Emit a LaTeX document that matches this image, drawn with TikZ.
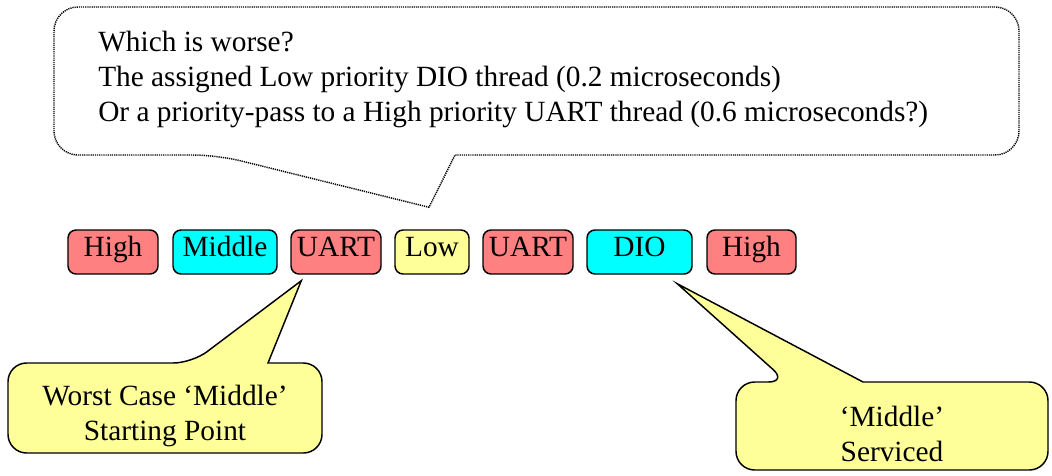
\documentclass[tikz,border=0pt]{standalone}
\usepackage{fontspec}
\setmainfont{Liberation Serif}
\usetikzlibrary{calc}
\definecolor{thrRed}{HTML}{FF8080}
\definecolor{thrCyan}{HTML}{00FFFF}
\definecolor{noteYellow}{HTML}{FFFF99}
\begin{document}
\begin{tikzpicture}[x=0.75pt,y=-0.75pt,
  thread/.style={draw=black, line width=1.1pt, rounded corners=6pt,
    minimum height=33pt, inner sep=0pt, text height=12pt, text depth=6pt,
    font=\fontsize{22}{26}\selectfont},
  hi/.style={thread, fill=thrRed},
  mid/.style={thread, fill=thrCyan},
  lo/.style={thread, fill=noteYellow},
  note/.style={draw=black, line width=1.1pt, fill=noteYellow},
  notetext/.style={align=center, inner sep=0pt, font=\fontsize{22}{26.25}\selectfont},
  question/.style={draw=black, line width=1.1pt, dash pattern=on 0.9pt off 0.7pt, fill=white},
]
\useasboundingbox (0,0) rectangle (1052,475);

% thread queue
\node[hi,  minimum width=67.5pt]  (b1) at (113,252)   {High};
\node[mid, minimum width=78pt]    (b2) at (225,252)   {Middle};
\node[hi,  minimum width=67.5pt]  (b3) at (336,252)   {UART};
\node[lo,  minimum width=55.5pt]  (b4) at (432,252)   {Low};
\node[hi,  minimum width=67.5pt]  (b5) at (528,252)   {UART};
\node[mid, minimum width=78.75pt] (b6) at (639.5,252) {DIO};
\node[hi,  minimum width=66.75pt] (b7) at (751.5,252) {High};

% callout tips
\coordinate (tipQ) at ($(b4.north)+(-3,-22)$);
\coordinate (tipS) at ($(b3.south west)+(11,6)$);
\coordinate (tipE) at ($(b6.south west)+(91,9)$);

% question callout (dotted)
\draw[question] (600,155) [rounded corners=18pt] -- (1019,155) -- (1019,7) -- (54,7) -- (54,155)
  -- (217,155) [sharp corners] -- (tipQ) -- (455,155) [rounded corners=18pt] -- cycle;
\node[anchor=north west, align=left, inner sep=0pt, font=\fontsize{22}{26.25}\selectfont] (q) at (98,31)
  {Which is worse?\\The assigned Low priority DIO thread (0.2 microseconds)\\Or a priority-pass to a High priority UART thread (0.6 microseconds?)};

% starting point callout
\draw[note] (165,453) [rounded corners=14pt] -- (8,453) -- (8,363) -- (192,363) [sharp corners]
  -- (tipS) -- (268,363) [rounded corners=14pt] -- (322,363) -- (322,453) -- cycle;
\node[notetext] (sp) at (165,416) {Worst Case ‘Middle’\\Starting Point};

% serviced callout
\draw[note] (892,470) [rounded corners=14pt] -- (736,470) -- (736,382) -- (787,382) [sharp corners]
  -- (tipE) -- (863,382) [rounded corners=14pt] -- (1048,382) -- (1048,470) -- cycle;
\node[notetext] (sv) at (892,434) {‘Middle’\\Serviced};
\end{tikzpicture}
\end{document}
